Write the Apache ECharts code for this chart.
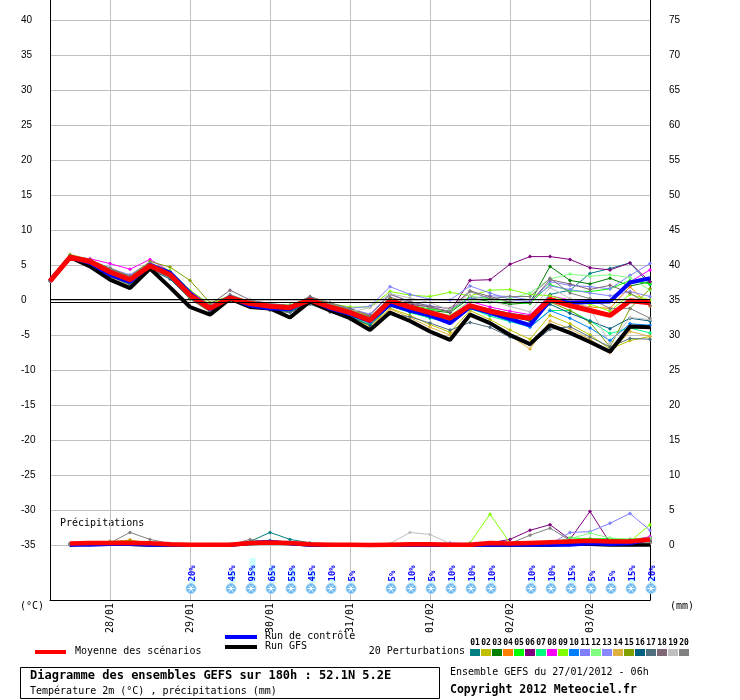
<!DOCTYPE html>
<html><head><meta charset="utf-8">
<script src="https://cdn.jsdelivr.net/npm/echarts@6/dist/echarts.min.js"></script>
<style>html,body{margin:0;padding:0;background:#fff}#c{width:740px;height:700px}</style>
</head><body><div id="c"></div>
<script>
// ---------- DATA ----------
const categories = ['27/01 06h','27/01 12h','27/01 18h','28/01 00h','28/01 06h','28/01 12h','28/01 18h','29/01 00h','29/01 06h','29/01 12h','29/01 18h','30/01 00h','30/01 06h','30/01 12h','30/01 18h','31/01 00h','31/01 06h','31/01 12h','31/01 18h','01/02 00h','01/02 06h','01/02 12h','01/02 18h','02/02 00h','02/02 06h','02/02 12h','02/02 18h','03/02 00h','03/02 06h','03/02 12h','03/02 18h'];
const leftTicks = [40,35,30,25,20,15,10,5,0,-5,-10,-15,-20,-25,-30,-35];
const rightTicks = [75,70,65,60,55,50,45,40,35,30,25,20,15,10,5,0];
const pertLabels = ['01','02','03','04','05','06','07','08','09','10','11','12','13','14','15','16','17','18','19','20'];
const pertColors = ['#008080','#c0c000','#008000','#ff8000','#00ff00','#800080','#00ff80','#ff00ff','#80ff00','#0080ff','#8080ff','#80ff80','#8888ff','#e0b040','#80a000','#006080','#507080','#806878','#c0c0c0','#808080'];

// temperature 2m (°C)
const tMean = [2.7,6.1,5.5,4.0,2.9,4.9,3.6,0.7,-1.2,0.3,-0.5,-0.9,-1.1,0.0,-1.0,-1.8,-2.9,-0.1,-1.0,-1.8,-2.6,-0.8,-1.6,-2.2,-2.6,0.1,-0.8,-1.5,-2.2,-0.1,-0.4];
const tCtrl = [2.7,6.1,5.3,3.6,2.6,5.0,3.9,1.0,-1.3,0.4,-0.8,-1.2,-1.3,0.1,-1.2,-2.0,-3.0,-0.6,-1.5,-2.2,-3.3,-1.0,-1.8,-2.7,-3.6,0.0,-0.4,-0.3,-0.2,2.5,3.1];
const tGfs = [2.7,6.1,4.8,2.9,1.7,4.5,1.8,-1.0,-2.1,0.2,-1.0,-1.2,-2.5,-0.2,-1.5,-2.6,-4.3,-1.8,-3.0,-4.5,-5.7,-2.1,-3.3,-5.0,-6.3,-3.6,-4.7,-6.0,-7.4,-3.8,-3.9];
const t01 = [2.7,6.0,5.2,3.5,2.4,4.6,3.3,0.4,-1.4,0.1,-0.8,-1.2,-1.4,-0.2,-1.3,-2.2,-3.3,-0.6,-1.4,-2.4,-3.0,-0.8,-1.3,-1.9,-2.3,0.8,1.4,3.8,4.5,5.3,2.2];
const t02 = [2.7,6.4,5.3,3.5,2.3,4.7,3.4,0.4,-1.5,0.2,-0.7,-1.2,-1.5,-0.4,-1.6,-2.5,-3.7,-1.2,-2.2,-3.5,-4.6,-1.5,-2.8,-4.3,-5.6,-2.2,-3.4,-5.0,-7.0,-5.8,-5.2];
const t03 = [2.7,6.2,5.6,4.2,3.2,5.0,3.8,1.0,-0.9,0.4,-0.4,-0.8,-1.0,0.2,-0.8,-1.6,-2.6,-0.2,-0.9,-1.5,-1.8,0.3,-0.2,-0.6,-0.4,4.8,2.8,2.3,3.1,2.0,2.6];
const t04 = [2.7,6.1,5.4,3.7,2.6,4.8,3.5,0.5,-1.3,0.2,-0.6,-1.0,-1.2,-0.1,-1.1,-1.9,-3.0,-0.4,-1.3,-2.1,-2.8,-0.7,-1.5,-2.4,-2.9,0.3,-0.4,-1.0,-1.2,1.9,-0.9];
const t05 = [2.7,6.2,5.5,4.0,3.0,5.1,3.9,0.9,-1.1,0.4,-0.4,-0.8,-1.0,0.1,-0.9,-1.7,-2.7,0.2,-0.7,-1.3,-1.6,0.5,0.2,-0.3,-0.5,2.2,1.3,1.2,1.6,2.8,2.3];
const t06 = [2.7,6.1,5.6,4.2,3.1,5.0,3.8,0.8,-1.0,0.3,-0.4,-0.9,-1.0,0.2,-0.8,-1.6,-2.4,-0.3,-0.6,-1.0,-1.7,2.8,2.9,5.1,6.2,6.2,5.8,4.6,4.3,5.3,2.6];
const t07 = [2.7,6.0,5.2,3.6,2.5,4.6,3.3,0.3,-1.5,0.0,-0.8,-1.3,-1.6,-0.4,-1.4,-2.3,-3.5,-0.8,-1.8,-2.6,-3.2,-1.2,-2.3,-3.1,-3.8,-1.5,-1.5,-3.0,-4.8,-4.0,-4.7];
const t08 = [2.7,6.2,5.9,5.2,4.4,5.8,4.1,1.3,-0.7,0.5,-0.3,-0.7,-0.8,0.2,-0.7,-1.5,-2.6,-0.2,-1.1,-1.8,-2.5,-0.2,-1.0,-1.6,-2.1,0.6,0.0,0.0,-0.1,2.6,4.3];
const t09 = [2.7,6.3,5.6,4.3,3.3,5.3,4.2,1.4,-0.6,0.6,-0.2,-0.6,-0.7,0.4,-0.5,-1.0,-1.0,1.2,0.7,0.5,1.1,0.6,1.4,1.5,0.8,0.6,-0.2,-0.6,-1.6,0.8,0.0];
const t10 = [2.7,6.1,5.3,3.8,2.8,4.9,3.8,0.9,-1.2,0.2,-0.6,-1.0,-1.2,-0.1,-1.2,-2.0,-3.2,-0.5,-1.6,-2.5,-3.3,-1.2,-2.1,-3.0,-3.9,-1.5,-2.6,-4.0,-5.8,-3.4,-3.6];
const t11 = [2.7,6.2,5.7,4.6,3.5,5.3,4.0,1.0,-0.9,0.5,-0.3,-0.6,-0.8,0.3,-0.6,-1.2,-0.9,1.9,0.8,0.1,0.0,2.0,1.0,0.1,-0.3,2.6,2.1,1.9,1.6,3.5,5.2];
const t12 = [2.7,6.1,5.4,3.9,2.9,5.0,3.7,0.6,-1.2,0.3,-0.5,-0.9,-1.1,0.0,-1.0,-1.9,-2.8,0.0,-0.8,-1.6,-2.2,-0.1,-0.4,0.2,1.0,3.0,3.7,3.4,3.6,3.2,1.4];
const t13 = [2.7,6.2,5.6,4.4,3.6,5.4,3.9,0.9,-1.0,0.4,-0.4,-0.7,-0.9,0.3,-0.6,-1.3,-2.0,0.9,-0.3,-0.8,-1.3,0.2,0.6,0.5,0.0,2.0,1.5,1.0,0.6,1.2,0.5];
const t14 = [2.7,6.0,5.1,3.3,2.1,4.5,3.1,0.1,-1.7,-0.1,-1.0,-1.5,-1.8,-0.5,-1.7,-2.6,-3.9,-1.3,-2.5,-3.9,-5.0,-1.9,-3.3,-5.1,-7.0,-3.0,-4.1,-5.6,-7.5,-4.5,-5.2];
const t15 = [2.7,6.5,5.8,4.5,3.4,5.5,4.7,2.8,-0.4,0.6,-0.2,-0.6,-0.8,0.4,-0.6,-1.4,-2.3,-0.4,-1.2,-2.0,-2.8,-0.8,-1.6,-2.3,-2.9,-0.3,-1.5,-3.2,-6.7,-1.2,1.6];
const t16 = [2.7,5.9,5.0,3.4,2.2,4.4,3.0,0.2,-1.6,0.0,-0.9,-1.4,-1.7,-0.4,-1.6,-2.4,-3.6,-0.9,-1.7,-2.4,-3.1,-1.0,-1.7,-2.3,-3.0,-0.6,-1.9,-3.0,-4.1,-2.6,-3.0];
const t17 = [2.7,6.0,5.1,3.5,2.3,4.6,3.2,0.2,-1.6,-0.1,-0.9,-1.4,-1.8,-0.6,-1.7,-2.7,-4.0,-2.0,-2.4,-3.3,-4.3,-3.2,-3.9,-5.3,-6.4,-4.2,-3.8,-5.3,-6.7,-5.5,-5.6];
const t18 = [2.7,6.3,5.7,4.4,3.4,5.2,3.9,1.0,-0.7,1.4,0.0,-0.5,-0.8,0.5,-0.4,-1.2,-2.2,0.8,-0.2,-0.9,-1.2,1.3,0.5,-0.3,-0.4,2.9,2.3,1.5,2.1,1.0,-0.8];
const t19 = [2.7,6.1,5.4,3.8,2.7,4.8,3.5,0.6,-1.3,0.2,-0.6,-1.0,-1.2,-0.1,-1.1,-1.7,-1.1,0.9,0.3,-0.4,-1.4,0.6,-0.1,-0.9,-1.7,1.8,0.2,-1.2,-6.2,-2.5,-2.8];
const t20 = [2.7,6.2,5.6,4.3,3.2,5.2,3.8,0.8,-1.1,0.8,-0.3,-0.7,-0.9,0.4,-0.7,-1.5,-2.5,0.4,-0.4,-1.1,-1.6,1.2,0.2,0.5,0.5,3.1,1.0,0.2,-1.2,-1.2,-2.6];

// precipitation (mm)
const pMean = [null,0.2,0.3,0.3,0.3,0.25,0.1,0.05,0.05,0.05,0.3,0.35,0.3,0.1,0.05,0.05,0,0.05,0.1,0.1,0.05,0.05,0.3,0.2,0.3,0.4,0.5,0.6,0.5,0.5,0.8];
const pCtrl = [null,0,0,0.1,0.1,0,0,0,0,0,0.3,0.5,0.2,0,0,0,0,0,0,0,0,0,0,0,0,0,0,0.2,0.1,0.2,0.8];
const pGfs = [null,0,0.2,0.2,0.1,0,0,0,0,0,0.2,0.3,0.2,0,0,0,0,0,0,0,0,0,0,0,0,0,0.1,0.1,0,0,0];
const p01 = [null,0.1,0.2,0.2,0.1,0,0,0,0,0.1,0.5,1.8,0.8,0.3,0.1,0,0,0,0,0,0,0,0,0,0,0,0.2,0.2,0.3,0.3,0.5];
const p02 = [null,0.2,0.3,0.4,0.5,0.2,0,0,0,0,0.2,0.3,0.2,0.1,0,0,0,0,0,0,0,0,0,0,0,0,0.1,0.2,0.1,0.2,0.3];
const p03 = [null,0.1,0.2,0.3,0.2,0.1,0,0,0,0,0.3,0.4,0.3,0.1,0,0,0,0,0,0,0,0,0,0,0,0.1,0.3,0.8,0.8,0.8,0.9];
const p04 = [null,0.2,0.3,0.5,0.7,0.3,0.1,0,0,0,0.2,0.4,0.3,0.1,0,0,0,0,0,0,0,0,0,0.1,0.1,0.1,0.2,0.4,0.3,0.5,0.7];
const p05 = [null,0.1,0.2,0.3,0.2,0.1,0,0,0,0,0.2,0.5,0.3,0.1,0,0,0,0,0,0,0,0,0,0,0,0.2,1.0,0.9,0.9,0.8,1.1];
const p06 = [null,0,0.1,0.2,0.1,0,0,0,0,0,0.2,0.3,0.2,0,0,0,0,0,0,0.1,0.2,0.2,0.3,0.8,2.1,2.9,0.8,4.8,0.3,0.4,1.0];
const p07 = [null,0.1,0.2,0.2,0.2,0.1,0,0,0,0,0.2,0.6,0.4,0.1,0,0,0,0,0,0,0,0,0,0,0,0,0.3,0.5,0.3,0.4,0.6];
const p08 = [null,0,0.1,0.3,0.2,0.1,0,0,0,0,0.2,0.4,0.3,0.1,0,0,0,0,0,0,0,0,0,0,0,0,0.2,0.3,0.3,0.6,1.2];
const p09 = [null,0.1,0.2,0.3,0.3,0.1,0,0,0,0,0.2,0.3,0.2,0.1,0,0,0,0,0,0,0,0.3,4.4,0.3,0,0,0.2,0.3,0.4,0.5,2.9];
const p10 = [null,0.1,0.3,0.4,0.3,0.1,0,0,0,0,0.3,0.6,0.4,0.2,0,0,0,0,0,0,0,0,0,0,0,0,0.3,0.4,0.3,0.4,0.6];
const p11 = [null,0.2,0.3,0.5,0.4,0.2,0,0,0,0,0.3,0.4,0.2,0.1,0,0,0,0,0,0,0,0,0,0,0,0.1,1.8,1.9,3.1,4.5,2.1];
const p12 = [null,0.1,0.2,0.3,0.2,0.1,0,0,0,0,0.2,0.3,0.2,0,0,0,0,0,0,0,0,0,0,0,0,0.3,0.9,1.7,1.0,0.8,1.0];
const p13 = [null,0.2,0.3,0.4,0.3,0.1,0,0,0,0,0.2,0.4,0.2,0.1,0,0,0,0,0,0.2,0.3,0.2,0.1,0,0,0,0.3,0.3,0.5,0.4,0.5];
const p14 = [null,0.1,0.2,0.3,0.4,0.2,0,0,0.1,0.1,0.2,0.4,0.3,0.1,0,0,0,0,0,0,0,0,0,0,0,0,0.2,0.3,0.3,0.3,0.4];
const p15 = [null,0.1,0.3,0.5,0.6,0.2,0,0,0,0,0.2,0.5,0.3,0.1,0,0,0,0,0,0,0,0,0,0,0,0,0.2,0.3,0.6,0.7,0.5];
const p16 = [null,0,0.1,0.2,0.2,0.1,0,0,0,0,0.2,0.4,0.3,0.1,0,0,0,0,0,0,0,0,0,0,0,0,0.2,0.4,0.5,0.6,0.5];
const p17 = [null,0,0.1,0.2,0.1,0,0,0,0,0,0.2,0.3,0.2,0.1,0,0,0,0,0,0,0,0,0,0,0,0,0.2,0.3,0.4,0.5,0.6];
const p18 = [null,0.1,0.2,0.3,0.2,0.1,0,0,0,0,0.3,0.4,0.3,0.1,0,0,0,0,0,0,0,0,0,0.1,0.3,0.2,0.3,0.3,0.3,0.4,0.6];
const p19 = [null,0,0.1,0.2,0.1,0,0,0,0,0,0.1,0.2,0.1,0,0,0,0,0.2,1.8,1.5,0.2,0,0,0,0,0,0.2,0.3,0.3,0.2,0.3];
const p20 = [null,0.1,0.2,0.3,1.8,0.8,0.2,0,0,0,0.8,0.4,0.3,0.1,0,0,0,0,0,0,0,0,0,0.2,1.4,2.4,0.7,0.3,0.2,0.2,0.3];

// probability of snow (%)
const snowPct = [null,null,null,null,null,null,null,20,null,45,95,65,55,45,10,5,null,5,10,5,10,10,10,null,10,10,15,5,5,15,20];

// ---------- CHART ----------
const tPerts = [t01,t02,t03,t04,t05,t06,t07,t08,t09,t10,t11,t12,t13,t14,t15,t16,t17,t18,t19,t20];
const pPerts = [p01,p02,p03,p04,p05,p06,p07,p08,p09,p10,p11,p12,p13,p14,p15,p16,p17,p18,p19,p20];
const MONO = '"DejaVu Sans Mono", monospace';
const isDay = (i, v) => String(v).slice(6) === '00h';

const series = [];
tPerts.forEach((d, k) => series.push({
  type: 'line', name: 'T' + pertLabels[k], data: d, yAxisIndex: 0,
  symbol: 'diamond', symbolSize: 4, showSymbol: true, silent: true,
  lineStyle: { width: 1, color: pertColors[k] }, itemStyle: { color: pertColors[k] },
  z: 3,
  markLine: k === 0 ? {
    silent: true, symbol: 'none', label: { show: false },
    lineStyle: { color: '#000', width: 1, type: 'solid' },
    data: [{ yAxis: 0.1 }, { yAxis: -0.3 }]
  } : undefined
}));
pPerts.forEach((d, k) => series.push({
  type: 'line', name: 'P' + pertLabels[k], data: d, yAxisIndex: 1,
  symbol: 'diamond', symbolSize: 4, showSymbol: true, silent: true,
  lineStyle: { width: 1, color: pertColors[k] }, itemStyle: { color: pertColors[k] }, z: 3
}));
const thick = (name, d, axis, color, w) => ({
  type: 'line', name, data: d, yAxisIndex: axis, symbol: 'none', silent: true,
  lineStyle: { width: w, color }, itemStyle: { color }, z: 4
});
series.push(thick('GFS P', pGfs, 1, '#000000', 3.5));
series.push(thick('Ctrl P', pCtrl, 1, '#0000ff', 3.5));
series.push(thick('Mean P', pMean, 1, '#ff0000', 4.5));
series.push(thick('GFS T', tGfs, 0, '#000000', 4));
series.push(thick('Ctrl T', tCtrl, 0, '#0000ff', 4));
series.push(thick('Mean T', tMean, 0, '#ff0000', 5));

series.push({
  type: 'custom', name: 'snow', yAxisIndex: 0, silent: true, z: 5,
  data: snowPct.map((v, i) => v == null ? null : [i, v]).filter(Boolean),
  renderItem: (params, api) => {
    const i = api.value(0), pct = api.value(1);
    const x = api.coord([i, 0])[0];
    const base = params.coordSys.y + params.coordSys.height;
    const h = pct * 0.26;
    const cx = x + 1, cy = base - 11.5;
    const r = 3.6;
    const flake = [0, Math.PI / 3, 2 * Math.PI / 3].map(a => ({
      type: 'line',
      shape: { x1: cx - r * Math.cos(a), y1: cy - r * Math.sin(a), x2: cx + r * Math.cos(a), y2: cy + r * Math.sin(a) },
      style: { stroke: '#ffffff', lineWidth: 1 }
    }));
    return {
      type: 'group',
      children: [
        { type: 'rect', shape: { x: x - 0.5, y: base - 17.3 - h, width: 6, height: h }, style: { fill: '#ccffff' } },
        { type: 'text', x: x + 2.5, y: base - 18.5, rotation: Math.PI / 2,
          style: { text: pct + '%', fill: '#0000ff', font: 'bold 9px ' + MONO, textAlign: 'left', textVerticalAlign: 'middle' } },
        { type: 'circle', shape: { cx, cy, r: 5 }, style: { fill: '#6cb8f0', stroke: '#9fd2f7', lineWidth: 1 } }
      ].concat(flake)
    };
  }
});

const graphics = [
  { type: 'text', left: 60, top: 518, style: { text: 'Précipitations', font: '10px ' + MONO, fill: '#000' } },
  { type: 'text', left: 20, top: 601, style: { text: '(°C)', font: '10px ' + MONO, fill: '#000' } },
  { type: 'text', left: 670, top: 601, style: { text: '(mm)', font: '10px ' + MONO, fill: '#000' } },
  { type: 'rect', shape: { x: 35, y: 650, width: 31, height: 4 }, style: { fill: '#ff0000' } },
  { type: 'text', left: 75, top: 646, style: { text: 'Moyenne des scénarios', font: '10px ' + MONO, fill: '#000' } },
  { type: 'rect', shape: { x: 225, y: 635, width: 32, height: 4 }, style: { fill: '#0000ff' } },
  { type: 'text', left: 265, top: 631, style: { text: 'Run de contrôle', font: '10px ' + MONO, fill: '#000' } },
  { type: 'rect', shape: { x: 225, y: 645, width: 32, height: 4 }, style: { fill: '#000000' } },
  { type: 'text', left: 265, top: 641, style: { text: 'Run GFS', font: '10px ' + MONO, fill: '#000' } },
  { type: 'text', right: 275, top: 646, style: { text: '20 Perturbations', font: '10px ' + MONO, fill: '#000' } },
  { type: 'rect', shape: { x: 20.5, y: 667.5, width: 419, height: 31 }, style: { fill: 'none', stroke: '#000', lineWidth: 1 } },
  { type: 'text', left: 30, top: 670, style: { text: 'Diagramme des ensembles GEFS sur 180h : 52.1N 5.2E', font: 'bold 12px ' + MONO, fill: '#000' } },
  { type: 'text', left: 30, top: 686, style: { text: 'Température 2m (°C) , précipitations (mm)', font: '10px ' + MONO, fill: '#000' } },
  { type: 'text', left: 450, top: 667, style: { text: 'Ensemble GEFS du 27/01/2012 - 06h', font: '10px ' + MONO, fill: '#000' } },
  { type: 'text', left: 450, top: 684, style: { text: 'Copyright 2012 Meteociel.fr', font: 'bold 11.5px ' + MONO, fill: '#000' } }
];
pertColors.forEach((c, k) => {
  graphics.push({ type: 'rect', shape: { x: 470 + 11 * k, y: 649, width: 10, height: 7 }, style: { fill: c } });
  graphics.push({ type: 'text', x: 475 + 11 * k, y: 643, style: { text: pertLabels[k], font: 'bold 8px ' + MONO, fill: '#000', textAlign: 'center', textVerticalAlign: 'middle' } });
});

const chart = echarts.init(document.getElementById('c'), null, { renderer: 'canvas' });
chart.setOption({
  animation: false,
  backgroundColor: '#ffffff',
  grid: { left: 50, right: 90, top: 0, bottom: 100, containLabel: false },
  xAxis: {
    type: 'category', data: categories, boundaryGap: false,
    axisLine: { show: true, onZero: false, lineStyle: { color: '#000', width: 1 } },
    axisTick: { show: false },
    axisLabel: { interval: isDay, formatter: v => v.slice(0, 5), rotate: 90, margin: 3,
      fontFamily: MONO, fontSize: 10, color: '#000' },
    splitLine: { show: true, interval: isDay, lineStyle: { color: '#c0c0c0', width: 1 } }
  },
  yAxis: [
    { type: 'value', position: 'left', min: -300 / 7, max: 300 / 7,
      axisLine: { show: true, lineStyle: { color: '#000', width: 1 } },
      axisTick: { show: false, customValues: leftTicks },
      axisLabel: { customValues: leftTicks, align: 'left', margin: 29, padding: [5, 0, 0, 0],
        fontFamily: '"Liberation Sans", Arial, sans-serif', fontSize: 10, color: '#000' },
      splitLine: { show: true, lineStyle: { color: '#c0c0c0', width: 1 } } },
    { type: 'value', position: 'right', min: 35 - 300 / 7, max: 35 + 300 / 7,
      axisLine: { show: true, lineStyle: { color: '#000', width: 1 } },
      axisTick: { show: false, customValues: rightTicks },
      axisLabel: { customValues: rightTicks, align: 'left', margin: 19, padding: [5, 0, 0, 0],
        fontFamily: '"Liberation Sans", Arial, sans-serif', fontSize: 10, color: '#000' },
      splitLine: { show: false } }
  ],
  series,
  graphic: { elements: graphics }
});
</script></body></html>
